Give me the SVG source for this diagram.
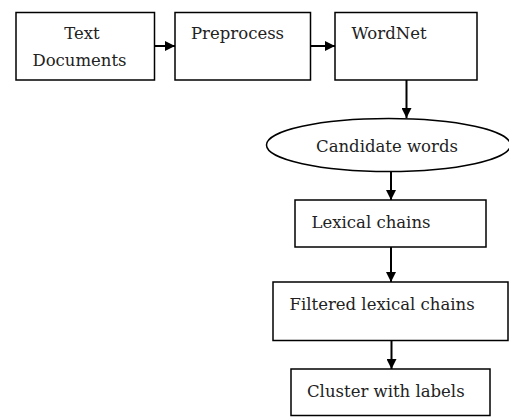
<svg xmlns="http://www.w3.org/2000/svg" width="509" height="418" viewBox="0 0 509 418">
<style>
.box{fill:#fff;stroke:#000;stroke-width:1.5}
.t{font-family:"DejaVu Serif","Liberation Serif",serif;font-size:16.5px;fill:#222}
.c{stroke:#000;stroke-width:2;fill:none}
</style>
<defs>
<marker id="ah" viewBox="0 0 10 10" refX="10" refY="5" markerWidth="10" markerHeight="10" markerUnits="userSpaceOnUse" orient="auto">
<path d="M0,0 L10,5 L0,10 Z" fill="#000"/>
</marker>
</defs>
<rect width="509" height="418" fill="#fff"/>
<g id="connectors">
<line class="c" x1="155" y1="46" x2="175" y2="46" marker-end="url(#ah)"/>
<line class="c" x1="311" y1="46" x2="335" y2="46" marker-end="url(#ah)"/>
<line class="c" x1="406.5" y1="80" x2="406.5" y2="118" marker-end="url(#ah)"/>
<line class="c" x1="391" y1="172" x2="391" y2="200" marker-end="url(#ah)"/>
<line class="c" x1="391" y1="247" x2="391" y2="282" marker-end="url(#ah)"/>
<line class="c" x1="391.5" y1="341" x2="391.5" y2="369" marker-end="url(#ah)"/>
</g>
<g id="text-documents">
<rect class="box" x="16" y="12.5" width="138.5" height="67.5"/>
<text class="t" x="82" y="39" text-anchor="middle">Text</text>
<text class="t" x="79.5" y="66" text-anchor="middle">Documents</text>
</g>
<g id="preprocess">
<rect class="box" x="175" y="12.5" width="135.5" height="67.5"/>
<text class="t" x="191" y="39">Preprocess</text>
</g>
<g id="wordnet">
<rect class="box" x="335" y="12.5" width="142" height="67.5"/>
<text class="t" x="351.5" y="39">WordNet</text>
</g>
<g id="candidate-words">
<ellipse class="box" cx="388.5" cy="145" rx="122" ry="26.5"/>
<text class="t" x="387" y="151.5" text-anchor="middle">Candidate words</text>
</g>
<g id="lexical-chains">
<rect class="box" x="295" y="200" width="191" height="47"/>
<text class="t" x="311.5" y="228">Lexical chains</text>
</g>
<g id="filtered-lexical-chains">
<rect class="box" x="273" y="282" width="235" height="58.5"/>
<text class="t" x="289.5" y="310">Filtered lexical chains</text>
</g>
<g id="cluster-with-labels">
<rect class="box" x="291" y="369" width="199" height="46.5"/>
<text class="t" x="307" y="396.5">Cluster with labels</text>
</g>
</svg>
